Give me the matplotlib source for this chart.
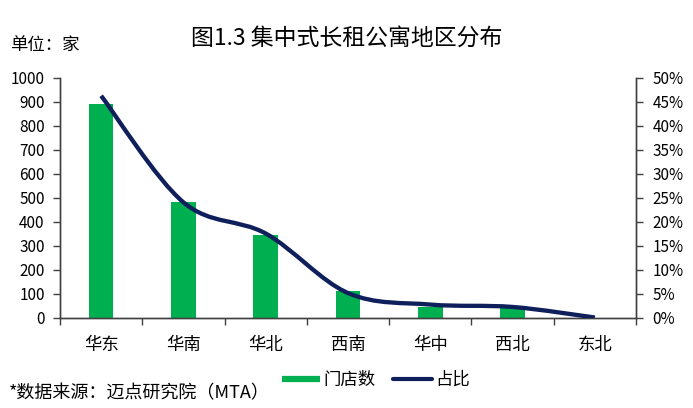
import matplotlib
matplotlib.use("Agg")
import matplotlib.pyplot as plt
import numpy as np
from matplotlib.path import Path
from matplotlib.patches import PathPatch
from matplotlib.lines import Line2D
from matplotlib.ticker import FuncFormatter, MultipleLocator, FixedLocator

plt.rcParams['font.family'] = ['Noto Sans CJK SC', 'DejaVu Sans']

categories = ['华东', '华南', '华北', '西南', '华中', '西北', '东北']
stores = [890, 483, 344, 113, 47, 46, 1]
share = [46.3, 24.1, 17.6, 5.2, 2.8, 2.3, 0.1]   # percent

title = '图1.3 集中式长租公寓地区分布'
unit_label = '单位：家'
source_label = '*数据来源：迈点研究院（MTA）'
legend_labels = ['门店数', '占比']

GREEN = '#00B050'
NAVY = '#0E1F5B'
AXC = '#404040'

fig = plt.figure(figsize=(6.93, 4.08), dpi=100)
ax = fig.add_axes([60/693, 1-318/408, (636-60)/693, (318-78)/408])
ax2 = ax.twinx()

x = np.arange(len(categories))
ax.bar(x, stores, width=0.30, color=GREEN, zorder=2)
ax.set_xlim(-0.5, len(categories) - 0.5)
ax.set_ylim(0, 1000)
ax.yaxis.set_major_locator(MultipleLocator(100))
ax2.set_ylim(0, 50)
ax2.yaxis.set_major_locator(MultipleLocator(5))
ax2.yaxis.set_major_formatter(FuncFormatter(lambda v, p: f'{int(round(v))}%'))

# smooth line (Excel-style Catmull-Rom -> cubic Bezier) through the data points
pts = np.column_stack([x, share]).astype(float)
ext = np.vstack([pts[0], pts, pts[-1]])
verts = [tuple(pts[0])]
codes = [Path.MOVETO]
for i in range(len(pts) - 1):
    p0, p1, p2, p3 = ext[i], ext[i+1], ext[i+2], ext[i+3]
    c1 = p1 + (p2 - p0) / 6.0
    c2 = p2 - (p3 - p1) / 6.0
    verts += [tuple(c1), tuple(c2), tuple(p2)]
    codes += [Path.CURVE4] * 3
ax2.add_patch(PathPatch(Path(verts, codes), fill=False, edgecolor=NAVY,
                        lw=3.1, capstyle='butt', joinstyle='round', zorder=3))

# axes styling
for a in (ax, ax2):
    a.spines['top'].set_visible(False)
    for s in ('left', 'right', 'bottom'):
        a.spines[s].set_color(AXC)
        a.spines[s].set_linewidth(1.0)
ax.set_zorder(ax2.get_zorder() - 1)
ax.patch.set_visible(True)
ax2.patch.set_visible(False)

ax.tick_params(axis='y', direction='out', length=5, width=1, color=AXC,
               pad=6, labelsize=11, labelcolor='#000000')
ax2.tick_params(axis='y', direction='out', length=5, width=1, color=AXC,
                pad=7, labelsize=11, labelcolor='#000000')

ax.xaxis.set_major_locator(FixedLocator(x))
ax.set_xticklabels(categories)
ax.xaxis.set_minor_locator(FixedLocator(np.arange(len(categories) + 1) - 0.5))
ax.tick_params(axis='x', which='major', length=0, pad=13, labelsize=12.5,
               labelcolor='#000000')
ax.tick_params(axis='x', which='minor', direction='out', length=5, width=1,
               color=AXC)

fig.text(0.5, 1 - 38/408, title, ha='center', va='center', fontsize=16.5,
         color='#000000')
fig.text(10/693, 1 - 45/408, unit_label, ha='left', va='center', fontsize=12.5,
         color='#000000')
fig.text(9/693, 1 - 393/408, source_label, ha='left', va='center', fontsize=13,
         color='#000000')

handles = [Line2D([0], [0], color=GREEN, lw=4.5, solid_capstyle='butt'),
           Line2D([0], [0], color=NAVY, lw=3.0, solid_capstyle='round')]
fig.legend(handles, legend_labels, loc='center', bbox_to_anchor=(376/693, 1 - 380/408),
           ncol=2, frameon=False, fontsize=12.5, handlelength=2.2,
           handletextpad=0.2, columnspacing=1.0, borderpad=0)

fig.savefig('out.png', dpi=100)
